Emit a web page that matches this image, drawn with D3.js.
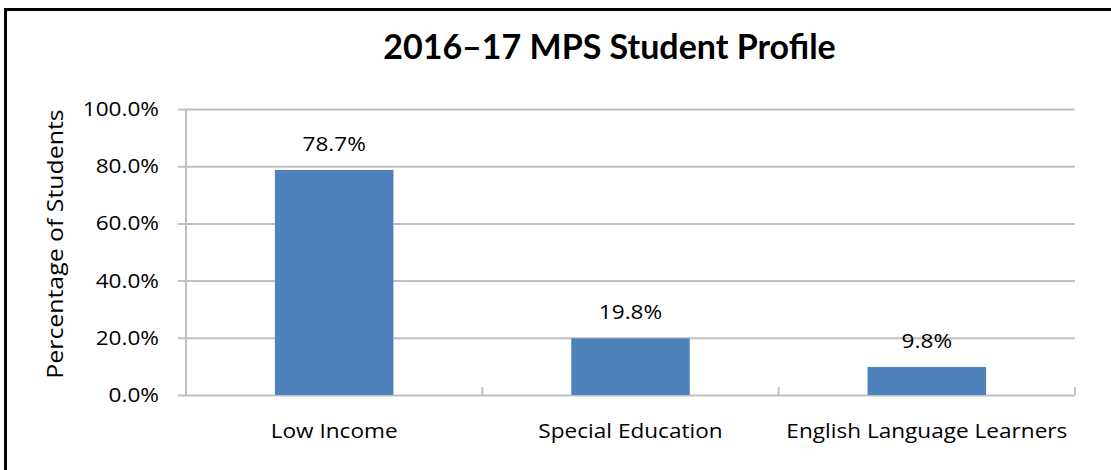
<!DOCTYPE html>
<html>
<head>
<meta charset="utf-8">
<script src="https://d3js.org/d3.v7.min.js"></script>
<style>
  body { margin: 0; background: #fff; }
  svg { display: block; font-family: "Open Sans", sans-serif; }
</style>
</head>
<body>
<div id="chart"></div>
<script>
// data
const categories = ["Low Income", "Special Education", "English Language Learners"];
const values = [0.787, 0.198, 0.098];
const yTicks = [0, 0.2, 0.4, 0.6, 0.8, 1.0];

const width = 1111;
const height = 470;
const plot = { left: 186, right: 1075, top: 109, bottom: 395 };
const stretch = 1.13; // the original text is a bit wider than Open Sans

const svg = d3.select("#chart").append("svg")
    .attr("width", width)
    .attr("height", height);

// outer frame (only top & left edges are inside the picture)
svg.append("rect")
    .attr("x", 5.5).attr("y", 9.5)
    .attr("width", 1300).attr("height", 600)
    .attr("fill", "none")
    .attr("stroke", "#000")
    .attr("stroke-width", 3);

const x = d3.scaleBand()
    .domain(categories)
    .range([plot.left, plot.right])
    .paddingInner(0.6)
    .paddingOuter(0.3);

// band used for axis ticks (category boundaries)
const xCat = d3.scaleBand()
    .domain(categories)
    .range([plot.left, plot.right]);

const y = d3.scaleLinear()
    .domain([0, 1])
    .range([plot.bottom, plot.top]);

const grid = "#bfbfbf";
const fmt = d3.format(".1%");

// horizontal gridlines + y axis
const yAxis = d3.axisLeft(y)
    .tickValues(yTicks)
    .tickFormat(fmt)
    .tickSize(-(plot.right - plot.left + 8));

const gy = svg.append("g")
    .attr("transform", `translate(${plot.left - 8},0)`)
    .call(yAxis);
gy.select(".domain").remove();
gy.selectAll(".tick line")
    .attr("stroke", grid)
    .attr("stroke-width", 2);
gy.selectAll(".tick text")
    .attr("x", 0)
    .attr("transform", `translate(-19,0) scale(${stretch},1)`)
    .attr("font-size", "20px")
    .attr("fill", "#000")
    .attr("font-family", "'Open Sans', sans-serif");

// vertical axis line
svg.append("line")
    .attr("x1", plot.left).attr("x2", plot.left)
    .attr("y1", plot.top).attr("y2", plot.bottom)
    .attr("stroke", grid)
    .attr("stroke-width", 2);

// category boundary ticks on the x axis
const catEdges = categories.map(c => xCat(c)).concat([plot.right]);
svg.append("g")
    .selectAll("line")
    .data(catEdges.slice(1))
    .enter().append("line")
    .attr("x1", d => d).attr("x2", d => d)
    .attr("y1", plot.bottom - 8).attr("y2", plot.bottom)
    .attr("stroke", grid)
    .attr("stroke-width", 2);

svg.append("g")
    .selectAll("text")
    .data(categories)
    .enter().append("text")
    .attr("transform", d => `translate(${xCat(d) + xCat.bandwidth() / 2},438) scale(${stretch},1)`)
    .attr("text-anchor", "middle")
    .attr("font-size", "20px")
    .attr("fill", "#000")
    .text(d => d);

// bars
svg.append("g")
    .selectAll("rect")
    .data(values)
    .enter().append("rect")
    .attr("x", (d, i) => x(categories[i]))
    .attr("y", d => y(d))
    .attr("width", x.bandwidth())
    .attr("height", d => plot.bottom - y(d))
    .attr("fill", "#4f81bd");

// value labels
svg.append("g")
    .selectAll("text")
    .data(values)
    .enter().append("text")
    .attr("transform", (d, i) => `translate(${x(categories[i]) + x.bandwidth() / 2},${y(d) - 19}) scale(${stretch},1)`)
    .attr("text-anchor", "middle")
    .attr("font-size", "20px")
    .attr("fill", "#000")
    .text(d => fmt(d));

// axis title
svg.append("text")
    .attr("transform", `translate(63,244) rotate(-90) scale(${stretch},1)`)
    .attr("text-anchor", "middle")
    .attr("font-size", "22px")
    .attr("fill", "#000")
    .text("Percentage of Students");

// chart title
svg.append("text")
    .attr("x", 609.5)
    .attr("y", 59)
    .attr("text-anchor", "middle")
    .attr("font-family", "Lato, sans-serif")
    .attr("font-size", "34px")
    .attr("font-weight", "bold")
    .attr("fill", "#000")
    .text("2016\u201317 MPS Student Profile");
</script>
</body>
</html>
